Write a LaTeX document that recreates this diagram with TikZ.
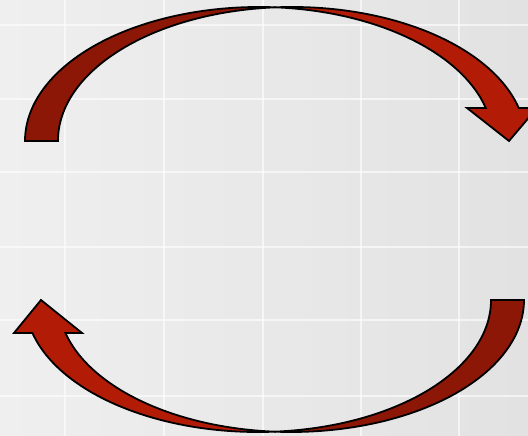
\documentclass[tikz,border=0pt]{standalone}
\usepackage{xcolor}
\definecolor{cycleRedDark}{HTML}{8C1707}
\definecolor{cycleRedFront}{HTML}{B21C07}
\definecolor{cycleBgLeft}{HTML}{EFEFEF}
\definecolor{cycleBgRight}{HTML}{E2E2E2}
\usepackage{tikz}
\tikzset{
  %% ── Bands of the curved arrows ──────────────────────────────────────
  bandeDos/.style   = {fill=cycleRedDark, draw=black, line width=1.8pt,
                       line join=miter},
  bandeFace/.style  = {fill=cycleRedFront, draw=black, line width=1.8pt,
                       line join=miter},
  %% ── Background grid ────────────────────────────────────────────────
  trameGrille/.style = {draw=white, line width=2pt, opacity=0.6},
}

\begin{document}
\begin{tikzpicture}[x=1pt, y=1pt]

\useasboundingbox (0,0) rectangle (528,436);
\clip (0,0) rectangle (528,436);
\shade[left color=cycleBgLeft, right color=cycleBgRight] (0,0) rectangle (528,436);

%% grid
\foreach \gx in {65, 164, 263, 361, 459}
  \draw[trameGrille] (\gx,0) -- (\gx,436);
\foreach \gy in {411, 337, 264, 189, 116, 40}
  \draw[trameGrille] (0,\gy) -- (528,\gy);

%% upper arrow, left to right
\coordinate (hautCroise) at (275.5,428.67);
\draw[bandeDos] (25,295)
   arc[start angle=180, end angle=85.96, x radius=234pt, y radius=134pt]
   arc[start angle=94.04, end angle=180, x radius=234pt, y radius=134pt] -- cycle;
\draw[bandeFace] (hautCroise)
   arc[start angle=94.04, end angle=14.26, x radius=234pt, y radius=134pt]
   -- (537,328) coordinate (hautBarbeD) -- (509,295) coordinate (hautPointe)
   -- (467,328) coordinate (hautBarbeG) -- (485.8,328)
   arc[start angle=14.26, end angle=85.96, x radius=234pt, y radius=134pt] -- cycle;

%% lower arrow, right to left
\coordinate (basCroise) at (274.5,4.33);
\draw[bandeDos] (524,136)
   arc[start angle=360, end angle=265.94, x radius=233pt, y radius=132pt]
   arc[start angle=274.06, end angle=360, x radius=233pt, y radius=132pt] -- cycle;
\draw[bandeFace] (basCroise)
   arc[start angle=274.06, end angle=194.48, x radius=233pt, y radius=132pt]
   -- (14,103) coordinate (basBarbeG) -- (41,136) coordinate (basPointe)
   -- (82,103) coordinate (basBarbeD) -- (65.4,103)
   arc[start angle=194.48, end angle=265.94, x radius=233pt, y radius=132pt] -- cycle;

\end{tikzpicture}
\end{document}
